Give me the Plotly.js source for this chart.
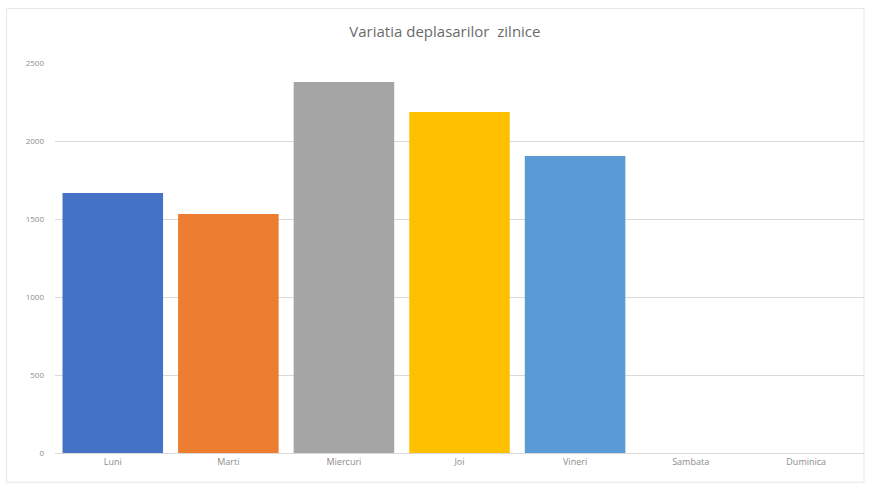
<!DOCTYPE html>
<html><head><meta charset="utf-8">
<script src="https://cdn.plot.ly/plotly-3.0.1.min.js"></script>
<style>html,body{margin:0;padding:0;background:#fff}#c{width:869px;height:487px;box-sizing:border-box;}</style>
</head><body><div id="c"></div>
<script>
const days = ["Luni","Marti","Miercuri","Joi","Vineri","Sambata","Duminica"];
const values = [1667, 1532, 2378, 2186, 1904, null, null];
const colors = ["#4472C4","#ED7D31","#A5A5A5","#FFC000","#5B9BD5","#ffffff","#ffffff"];
const yTicks = [0, 500, 1000, 1500, 2000, 2500];

Plotly.newPlot("c", [{
  type: "bar", x: days, y: values,
  marker: {color: colors},
  hoverinfo: "x+y"
}], {
  width: 869, height: 487,
  margin: {l: 55, r: 5, t: 63, b: 34},
  paper_bgcolor: "#fff", plot_bgcolor: "#fff",
  bargap: 0.13,
  showlegend: false,
  font: {family: "Open Sans, Liberation Sans, sans-serif", color: "#8c8c8c"},
  title: {text: "Variatia deplasarilor  zilnice", font: {size: 15, color: "#6b6b6b"}, x: 0.512, xanchor: "center", y: 0.935, yanchor: "middle"},
  xaxis: {showgrid: false, zeroline: false, showline: true, linecolor: "#d9d9d9", linewidth: 1,
          tickfont: {size: 9, color: "#8c8c8c"}, ticks: ""},
  yaxis: {range: [0, 2500], tickvals: yTicks, ticktext: yTicks.map(String),
          showgrid: true, gridcolor: "#d9d9d9", gridwidth: 1, zeroline: false, showline: false,
          tickfont: {size: 8, color: "#8c8c8c"}, ticks: "", ticklabelstandoff: 10},
  shapes: [{type: "rect", xref: "paper", yref: "paper", x0: -0.06, x1: 1.0, y0: -0.075, y1: 1.14,
            line: {color: "#e6e6e6", width: 1}}]
}, {displayModeBar: false});
</script></body></html>
